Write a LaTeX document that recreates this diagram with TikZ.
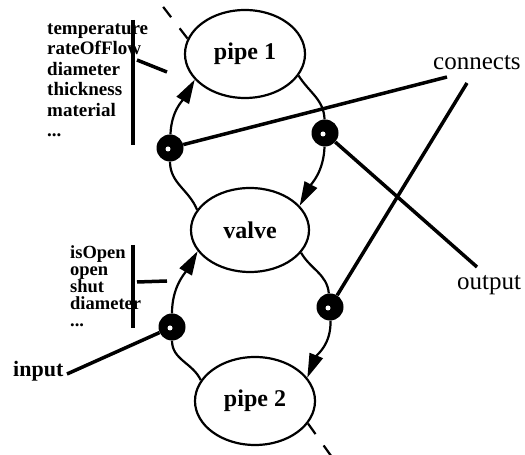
\documentclass[tikz,border=0pt]{standalone}
\usepackage{fontspec}
\setmainfont{Liberation Serif}
\usetikzlibrary{shapes.geometric,arrows.meta}
\begin{document}
\begin{tikzpicture}[x=1pt,y=1pt,
 comp/.style={ellipse, draw, line width=2.2pt, inner sep=0pt, font=\fontsize{24}{24}\selectfont\bfseries},
 blob/.style={circle, fill=black, inner sep=0pt, minimum size=27pt, path picture={\fill[white] ([xshift=-2pt,yshift=-1pt]path picture bounding box.center) circle (2.5pt);}},
 flow/.style={line width=2.2pt},
 tip/.style={-{Triangle[length=24pt,width=14pt]}},
 wire/.style={line width=3.5pt},
 bar/.style={line width=4pt},
 lst/.style={anchor=base west, align=left, inner sep=0pt, font=\fontsize{19}{20.5}\selectfont\bfseries},
 vlst/.style={anchor=base west, align=left, inner sep=0pt, font=\fontsize{18.5}{17}\selectfont\bfseries},
 lbl/.style={anchor=base west, inner sep=0pt, font=\fontsize{25}{25}\selectfont},
 dsh/.style={line width=2.2pt, dash pattern=on 13pt off 14pt}]
\useasboundingbox (0,0) rectangle (525,455);

\node[comp, minimum width=120pt, minimum height=88pt] (pipe1) at (245,401) {pipe 1};
\node[comp, minimum width=118pt, minimum height=84pt] (valve) at (250,225) {valve};
\node[comp, minimum width=120pt, minimum height=88pt] (pipe2) at (255,54) {pipe 2};

\node[blob] (LT) at (170,307) {};
\node[blob] (RT) at (325,322) {};
\node[blob] (LB) at (172,128) {};
\node[blob] (RB) at (330,148) {};

\draw[flow, tip] (valve.159) to[out=112,in=-90] (LT) to[out=88,in=240] (pipe1.207);
\draw[flow, tip] (pipe1.-22) to[out=-58,in=92] (RT) to[out=-92,in=62] (valve.26);
\draw[flow, tip] (pipe2.159) to[out=115,in=-90] (LB) to[out=90,in=240] (valve.202);
\draw[flow, tip] (valve.-24) to[out=-60,in=95] (RB) to[out=-88,in=68] (pipe2.24);

\coordinate (c1) at (447,378);
\coordinate (c2) at (467,372);
\coordinate (o1) at (477,188);
\coordinate (in1) at (67,81);
\draw[wire] (c1) -- (LT);
\draw[wire] (c2) -- (RB);
\draw[wire] (RT) -- (o1);
\draw[wire] (in1) -- (LB);

\coordinate (b1t) at (133,435);
\coordinate (b1b) at (133,310);
\coordinate (h1a) at (137,395);
\coordinate (h1b) at (167,383);
\draw[bar] (b1t) -- (b1b);
\draw[wire] (h1a) -- (h1b);

\coordinate (b2t) at (133,210);
\coordinate (b2b) at (133,127);
\coordinate (h2a) at (137,173);
\coordinate (h2b) at (167,174);
\draw[bar] (b2t) -- (b2b);
\draw[wire] (h2a) -- (h2b);

\node[lst] (plist) at (47,318) {temperature\\rateOfFlow\\diameter\\thickness\\material\\...};
\node[vlst] (vlist) at (70,128) {isOpen\\open\\shut\\diameter\\...};

\node[lbl] (conn) at (433,385) {connects};
\node[lbl] (outp) at (457,165) {output};
\node[anchor=base west, inner sep=0pt, font=\fontsize{22}{22}\selectfont\bfseries] (inp) at (13,78) {input};

\coordinate (d1) at (154,460);
\coordinate (d2) at (334,-5);
\draw[dsh] (pipe1.165) -- (d1);
\draw[dsh] (pipe2.-23) -- (d2);
\end{tikzpicture}
\end{document}
